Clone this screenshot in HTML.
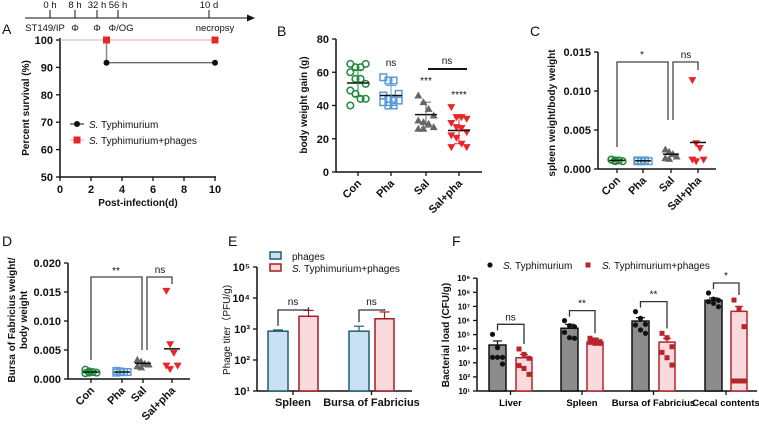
<!DOCTYPE html>
<html><head><meta charset="utf-8"><style>
body{margin:0;background:#fff;}
svg{display:block;font-family:"Liberation Sans",Arial,sans-serif;}
.t{font-weight:bold;font-size:11px;fill:#111;}
.at{font-weight:bold;font-size:10px;fill:#111;}
.pl{font-size:14px;fill:#111;}
.sm{font-size:10px;fill:#111;}
.tl{font-size:9.5px;fill:#111;}
</style></head><body>
<svg id="fig" width="759" height="424" viewBox="0 0 759 424"></svg>
<script>
// ---- data ----
const timelineTop=["0 h","8 h","32 h","56 h","10 d"];
const timelineBottom=["ST149/IP","Φ","Φ","Φ/OG","necropsy"];
const survDays=[0,3,10];
const survST=[100,91.7,91.7];
const survPh=[100,100,100];
const cats4=["Con","Pha","Sal","Sal+pha"];
const bCon=[65,63,63,65,60,56,56,53,49,47,44,44,40];
const bPha=[57,55,55,47,46,44,43,43,42,40,40];
const bSal=[46,42,38,34,31,30,29,27,26,26];
const bSP=[39,33,33,32,29.5,27,26.5,24,22,20.5,17,15,15];
const bMean=[53.5,46,34.5,25];
const bSD=[8,6,7.5,8];
const cCon=[0.0012,0.0011,0.0011,0.0010,0.0012,0.0010];
const cPha=[0.0010,0.0010,0.0011,0.0010,0.0011,0.0010];
const cSal=[0.0025,0.0022,0.0019,0.0016,0.0014,0.0013];
const cSP=[0.0114,0.0033,0.0027,0.0012,0.0012,0.0010];
const cMean=[0.0011,0.00105,0.0019,0.0034];
const dCon=[0.0016,0.0013,0.0012,0.0011,0.0010,0.0011];
const dPha=[0.0014,0.0013,0.0012,0.0012,0.0011,0.0012];
const dSal=[0.0033,0.0030,0.0026,0.0025,0.0022,0.0020];
const dSP=[0.0152,0.0060,0.0045,0.0023,0.0023,0.0017];
const dMean=[0.0012,0.0012,0.0027,0.0052];
const eCats=["Spleen","Bursa of Fabricius"];
const ePh=[2.93,2.93];
const ePhErr=[2.97,3.09];
const eST=[3.41,3.33];
const eSTErr=[3.6,3.55];
const fCats=["Liver","Spleen","Bursa of Fabricius","Cecal contents"];
const fST=[4.26,5.45,5.96,7.43];
const fSTErr=[4.55,5.73,6.2,7.6];
const fPh=[3.36,4.47,4.47,6.65];
const fPhErr=[3.6,4.74,4.74,7.0];
const fSTpts=[[5.02,4.07,3.39,3.39,3.39,2.91],[5.99,5.63,5.56,5.16,4.78,4.74],[6.63,6.15,5.73,5.68,5.33,5.09],[7.95,7.52,7.43,7.34,7.22,6.98]];
const fPhpts=[[3.98,3.6,3.32,2.8,2.6,2.18],[4.74,4.62,4.5,4.45,4.38,4.38],[5.09,4.78,4.14,3.74,3.36,2.84],[7.45,6.86,5.56,1.71,1.71,1.71]];
const fSig=["ns","**","**","*"];

const S=document.getElementById('fig');
const NS='http://www.w3.org/2000/svg';
function mk(tag,attrs,name,txt){
  const el=document.createElementNS(NS,tag);
  for(const k in attrs) el.setAttribute(k,attrs[k]);
  
  
  if(txt!==undefined) el.textContent=txt;
  S.appendChild(el);return el;
}
function line(x1,y1,x2,y2,c,w,n){return mk('line',{x1,y1,x2,y2,stroke:c,'stroke-width':w},n);}
function text(x,y,s,cls,anchor,n,extra){const a=Object.assign({x,y,class:cls,'text-anchor':anchor||'start'},extra||{});return mk('text',a,n,s);}
function poly(d,fill,stroke,n){return mk('path',{d,fill,stroke:stroke||'none','stroke-width':1.3},n);}
function jit(i,n){return ((i%4)-1.5)*3.2*(n>8?1:0.9);}

// ---- timeline ----
line(25,18,250,18,'#111',1,'timeline-axis');
poly('M255 18 L247 14.5 L247 21.5Z','#111',null,'timeline-arrow');
const tlx=[50,75,97,118,209];
const tlbx=[45,75,97,121,215];
tlx.forEach((x,i)=>{line(x,10,x,18,'#111',1,'timeline-tick');
  text(x,8,timelineTop[i],'tl','middle','timeline-time-label');
  text(tlbx[i],31,timelineBottom[i],'tl','middle','timeline-event-label');});

// ---- panel A ----
text(2,34,'A','pl','start','panel-label-a');
const xA=d=>60+d*15.5, yA=p=>40+(100-p)*2.74;
line(60,38,60,177,'#111',1.5,'a-y-axis');line(60,177,216,177,'#111',1.5,'a-x-axis');
[50,60,70,80,90,100].forEach(v=>{line(56,yA(v),60,yA(v),'#111',1.3,'a-y-tick');text(53,yA(v)+4,String(v),'t','end','a-y-tick-label');});
[0,2,4,6,8,10].forEach(v=>{line(xA(v),177,xA(v),181,'#111',1.3,'a-x-tick');text(xA(v),193,String(v),'t','middle','a-x-tick-label');});
text(138,206,'Post-infection(d)','at','middle','a-x-axis-title');
text(0,0,'Percent survival (%)','at','middle','a-y-axis-title',{transform:'translate(29,108) rotate(-90)'});
line(xA(0),yA(100),xA(3),yA(100),'#bbb',1,'a-line-segment');
line(xA(3),yA(survPh[1]),xA(10),yA(survPh[2]),'#f4a0a0',1,'a-line-phages');
line(xA(3),yA(100),xA(3),yA(survST[1]),'#888',1.5,'a-drop');
line(xA(3),yA(survST[1]),xA(10),yA(survST[2]),'#333',1,'a-line-st');
[1,2].forEach(i=>{mk('circle',{cx:xA(survDays[i]),cy:yA(survST[i]),r:3,fill:'#111'},'a-point-st');
 mk('rect',{x:xA(survDays[i])-3.5,y:yA(survPh[i])-3.5,width:7,height:7,fill:'#e8262a'},'a-point-phages');});
line(70,124,84,124,'#111',1,'a-legend-line');mk('circle',{cx:77,cy:124,r:3,fill:'#111'},'a-legend-marker-st');
mk('text',{x:89,y:128,class:'sm','font-size':'11'},'a-legend-st').innerHTML='<tspan font-style="italic">S.</tspan> Typhimurium';
line(70,140,84,140,'#f4a0a0',1,'a-legend-line');mk('rect',{x:73.5,y:136.5,width:7,height:7,fill:'#e8262a'},'a-legend-marker-phages');
mk('text',{x:89,y:144,class:'sm'},'a-legend-phages').innerHTML='<tspan font-style="italic">S.</tspan> Typhimurium+phages';

// scatter marker
function marker(type,x,y,n){
  if(type==='circ') return mk('circle',{cx:x,cy:y,r:3.3,fill:'none',stroke:'#1e8a3c','stroke-width':1.5},n);
  if(type==='sq') return mk('rect',{x:x-3.3,y:y-3.3,width:6.6,height:6.6,fill:'none',stroke:'#5b9bd5','stroke-width':1.5},n);
  if(type==='tri') return poly(`M${x} ${y-4} L${x+4} ${y+3} L${x-4} ${y+3}Z`,'#666',null,n);
  return poly(`M${x} ${y+4} L${x+4} ${y-3} L${x-4} ${y-3}Z`,'#e8262a',null,n);
}
function scatterPanel(key,cx,yf,groups,means,sds,types,colors,mw){
  groups.forEach((g,gi)=>{
    g.forEach((v,i)=>{marker(types[gi],cx[gi]+jit(i,g.length)*(g.length>8?1.6:1.3),yf(v),key+'-point-'+cats4[gi].toLowerCase().replace('+','-'));});
    line(cx[gi]-mw,yf(means[gi]),cx[gi]+mw,yf(means[gi]),'#111',1.5,key+'-mean-line');
    if(sds){const s=sds[gi];line(cx[gi],yf(means[gi]+s),cx[gi],yf(means[gi]-s),colors[gi],1,key+'-sd');
      line(cx[gi]-5,yf(means[gi]+s),cx[gi]+5,yf(means[gi]+s),colors[gi],1,key+'-sd-cap');
      line(cx[gi]-5,yf(means[gi]-s),cx[gi]+5,yf(means[gi]-s),colors[gi],1,key+'-sd-cap');}
  });
}
function catAxis(key,cx,y0,x0,x1){
  line(x0,y0,x1,y0,'#111',1.5,key+'-x-axis');
  cx.forEach((x,i)=>{line(x,y0,x,y0+4,'#111',1.3,key+'-x-tick');
    text(0,0,cats4[i],'t','end',key+'-x-tick-label',{transform:`translate(${x+4},${y0+12}) rotate(-45)`});});
}

// ---- panel B ----
text(277,36,'B','pl','start','panel-label-b');
const yB=v=>172-v*1.6625, xB=[358,391,426,459];
line(336,39,336,172,'#111',1.5,'b-y-axis');
[0,20,40,60,80].forEach(v=>{line(332,yB(v),336,yB(v),'#111',1.3,'b-y-tick');text(329,yB(v)+4,String(v),'t','end','b-y-tick-label');});
catAxis('b',xB,172,336,482);
text(0,0,'body weight gain (g)','at','middle','b-y-axis-title',{transform:'translate(307,105) rotate(-90)'});
scatterPanel('b',xB,yB,[bCon,bPha,bSal,bSP],bMean,bSD,['circ','sq','tri','inv'],['#1e8a3c','#5b9bd5','#666','#e8262a'],11);
text(xB[1],66,'ns','sm','middle','b-sig-pha');text(xB[2],84,'***','sm','middle','b-sig-sal');text(xB[3],98,'****','sm','middle','b-sig-salpha');
line(428,69,467,69,'#111',2,'b-sig-bar');text(447,64,'ns','sm','middle','b-sig-ns');

// ---- panel C ----
text(530,36,'C','pl','start','panel-label-c');
const yC=v=>169-v*7800, xC=[617,643,671,698];
line(598,52,598,169,'#111',1.5,'c-y-axis');
[0,0.005,0.010,0.015].forEach(v=>{line(594,yC(v),598,yC(v),'#111',1.3,'c-y-tick');text(591,yC(v)+4,v.toFixed(3),'t','end','c-y-tick-label');});
catAxis('c',xC,169,598,716);
text(0,0,'spleen weight/body weight','at','middle','c-y-axis-title',{transform:'translate(555,113) rotate(-90)'});
scatterPanel('c',xC,yC,[cCon,cPha,cSal,cSP],cMean,null,['circ','sq','tri','inv'],[],8);
poly('M617 147 L617 62 L668 62 L668 120','none','#444','c-bracket-star');text(642,58,'*','sm','middle','c-sig-star');
poly('M673 120 L673 62 L698 62 L698 70','none','#444','c-bracket-ns');text(686,58,'ns','sm','middle','c-sig-ns');

// ---- panel D ----
text(2,246,'D','pl','start','panel-label-d');
const yD=v=>379-v*5800, xD=[91,122,143,172];
line(68,263,68,379,'#111',1.5,'d-y-axis');
[0,0.005,0.010,0.015,0.020].forEach(v=>{line(64,yD(v),68,yD(v),'#111',1.3,'d-y-tick');text(61,yD(v)+4,v.toFixed(3),'t','end','d-y-tick-label');});
catAxis('d',xD,379,68,190);
text(0,0,'Bursa of Fabricius weight/','at','middle','d-y-axis-title',{transform:'translate(15,320) rotate(-90)'});
text(0,0,'body weight','at','middle','d-y-axis-title-2',{transform:'translate(27,320) rotate(-90)'});
scatterPanel('d',xD,yD,[dCon,dPha,dSal,dSP],dMean,null,['circ','sq','tri','inv'],[],8);
poly('M91 360 L91 277 L142 277 L142 350','none','#444','d-bracket-star');text(116,274,'**','sm','middle','d-sig-star');
poly('M147 350 L147 277 L172 277 L172 284','none','#444','d-bracket-ns');text(160,273,'ns','sm','middle','d-sig-ns');

// ---- panel E ----
text(228,246,'E','pl','start','panel-label-e');
const yE=l=>391-(l-1)*31;
line(257,267,257,391,'#111',1.5,'e-y-axis');line(257,391,412,391,'#111',1.5,'e-x-axis');
['10¹','10²','10³','10⁴','10⁵'].forEach((s,i)=>{line(253,yE(i+1),257,yE(i+1),'#111',1.3,'e-y-tick');text(250,yE(i+1)+4,s,'t','end','e-y-tick-label');});
text(0,0,'Phage titer（PFU/g)','sm','middle','e-y-axis-title',{transform:'translate(230,330) rotate(-90)'});
const eX=[[268,299],[349,375]];
eCats.forEach((c,i)=>{
  const bx=eX[i][0],rx=eX[i][1];
  mk('rect',{x:bx,y:yE(ePh[i]),width:20,height:391-yE(ePh[i]),fill:'#c9dff2',stroke:'#1f5f6e','stroke-width':1.5},'e-bar-phages');
  line(bx+10,yE(ePh[i]),bx+10,yE(ePhErr[i]),'#1f5f6e',1.2,'e-err');line(bx+5,yE(ePhErr[i]),bx+15,yE(ePhErr[i]),'#1f5f6e',1.2,'e-err-cap');
  mk('rect',{x:rx,y:yE(eST[i]),width:19,height:391-yE(eST[i]),fill:'#fadadd',stroke:'#a31d24','stroke-width':1.5},'e-bar-st-phages');
  line(rx+9.5,yE(eST[i]),rx+9.5,yE(eSTErr[i]),'#a31d24',1.2,'e-err');line(rx+4.5,yE(eSTErr[i]),rx+14.5,yE(eSTErr[i]),'#a31d24',1.2,'e-err-cap');
  line((bx+rx+19)/2,391,(bx+rx+19)/2,395,'#111',1.3,'e-x-tick');
  text((bx+rx+19)/2,406,c,'t','middle','e-x-tick-label');
  poly(`M${bx+10} ${yE(ePhErr[i])-4} L${bx+10} 310 L${rx+9.5} 310 L${rx+9.5} ${yE(eSTErr[i])-3}`,'none','#333','e-bracket');
  text((bx+rx+19)/2,305,'ns','sm','middle','e-sig-ns');
});
mk('rect',{x:270,y:252,width:11,height:7,fill:'#c9dff2',stroke:'#1f5f6e','stroke-width':1.5},'e-legend-swatch-phages');
text(292,260,'phages','sm','start','e-legend-phages');
mk('rect',{x:270,y:264,width:11,height:7,fill:'#fadadd',stroke:'#a31d24','stroke-width':1.5},'e-legend-swatch-st');
mk('text',{x:292,y:272,class:'sm'},'e-legend-st').innerHTML='<tspan font-style="italic">S.</tspan> Typhimurium+phages';

// ---- panel F ----
text(452,246,'F','pl','start','panel-label-f');
const yF=l=>391-(l-1)*14.1;
line(477,278,477,391,'#111',1.5,'f-y-axis');line(477,391,757,391,'#111',1.5,'f-x-axis');
['10¹','10²','10³','10⁴','10⁵','10⁶','10⁷','10⁸','10⁹'].forEach((s,i)=>{line(473,yF(i+1),477,yF(i+1),'#111',1.3,'f-y-tick');mk('text',{x:470,y:yF(i+1)+3,'text-anchor':'end','font-size':'8','font-weight':'bold'},'f-y-tick-label',s);});
text(0,0,'Bacterial load (CFU/g)','at','middle','f-y-axis-title',{transform:'translate(449,335) rotate(-90)'});
const fX=[[489,516],[561,587],[632,659],[705,731]];
fCats.forEach((c,i)=>{
  const bx=fX[i][0],rx=fX[i][1];
  mk('rect',{x:bx,y:yF(fST[i]),width:17,height:391-yF(fST[i]),fill:'#8c8c8c',stroke:'#111','stroke-width':1.5},'f-bar-st');
  line(bx+8.5,yF(fST[i]),bx+8.5,yF(fSTErr[i]),'#111',1.2,'f-err');line(bx+4,yF(fSTErr[i]),bx+13,yF(fSTErr[i]),'#111',1.2,'f-err-cap');
  mk('rect',{x:rx,y:yF(fPh[i]),width:16,height:391-yF(fPh[i]),fill:'#fadadd',stroke:'#b4262c','stroke-width':1.5},'f-bar-phages');
  line(rx+8,yF(fPh[i]),rx+8,yF(fPhErr[i]),'#b4262c',1.2,'f-err');line(rx+4,yF(fPhErr[i]),rx+12,yF(fPhErr[i]),'#b4262c',1.2,'f-err-cap');
  fSTpts[i].forEach((v,j)=>mk('circle',{cx:bx+8.5+((j%3)-1)*5,cy:yF(v),r:2.6,fill:'#111'},'f-point-st'));
  fPhpts[i].forEach((v,j)=>mk('rect',{x:rx+8+((j%3)-1)*5-2.5,y:yF(v)-2.5,width:5,height:5,fill:'#b4262c'},'f-point-phages'));
  const top=Math.min(yF(Math.max(...fSTpts[i])),yF(fPhErr[i]))-10;
  poly(`M${bx+8.5} ${yF(Math.max(...fSTpts[i]))-4} L${bx+8.5} ${top} L${rx+8} ${top} L${rx+8} ${yF(Math.max(...fPhpts[i]))-5}`,'none','#333','f-bracket');
  text((bx+rx+16)/2,top-4,fSig[i],'sm','middle','f-sig');
  line((bx+rx+16)/2,391,(bx+rx+16)/2,395,'#111',1.3,'f-x-tick');
  mk('text',{x:(bx+rx+16)/2,y:406,'text-anchor':'middle','font-size':'9.5','font-weight':'bold'},'f-x-tick-label',c);
});
mk('circle',{cx:490,cy:265,r:2.6,fill:'#111'},'f-legend-marker-st');
mk('text',{x:503,y:269,class:'sm'},'f-legend-st').innerHTML='<tspan font-style="italic">S.</tspan> Typhimurium';
mk('rect',{x:585.5,y:262.5,width:5,height:5,fill:'#b4262c'},'f-legend-marker-phages');
mk('text',{x:602,y:269,class:'sm'},'f-legend-phages').innerHTML='<tspan font-style="italic">S.</tspan> Typhimurium+phages';
</script>
</body></html>
